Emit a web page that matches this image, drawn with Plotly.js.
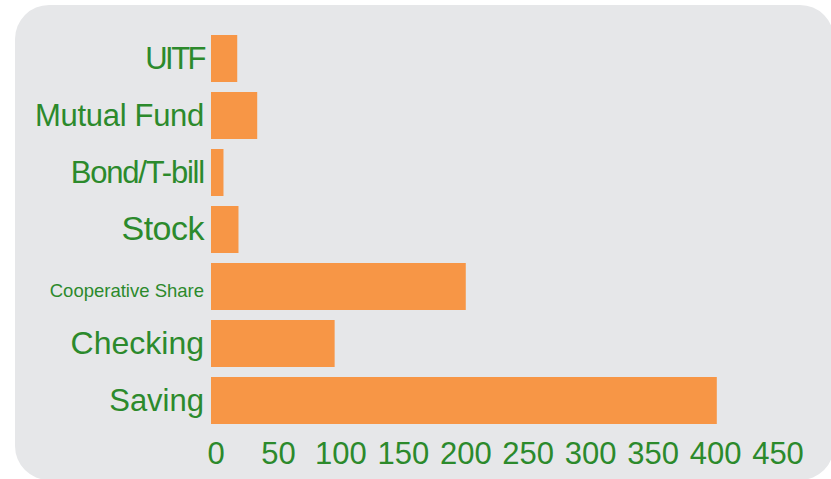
<!DOCTYPE html>
<html>
<head>
<meta charset="utf-8">
<script src="https://cdn.plot.ly/plotly-3.0.1.min.js"></script>
<style>
  html, body { margin: 0; padding: 0; background: #ffffff; overflow: hidden; }
  #bg { position: absolute; left: 15px; top: 5px; width: 819px; height: 475px;
        background: #E6E7E9; border-radius: 34px; }
  #chart { position: absolute; left: 0; top: 0; width: 831px; height: 479px; }
</style>
</head>
<body>
<div id="bg"></div>
<div id="chart"></div>
<script>
// Categories from bottom to top
const categories = ["Saving", "Checking", "Cooperative Share", "Stock", "Bond/T-bill", "Mutual Fund", "UITF"];
const values = [405, 99, 204, 22, 10, 37, 21];
const tickLabels = [
  "Saving",
  '<span style="font-size:32px">Checking</span>',
  '<span style="font-size:18.5px">Cooperative Share</span>',
  '<span style="font-size:34px;letter-spacing:-0.5px">Stock</span>',
  '<span style="letter-spacing:-1.2px">Bond/T-bill</span>',
  '<span style="letter-spacing:-0.3px">Mutual Fund</span>',
  '<span style="letter-spacing:-2.5px">UITF</span>'
];
const xTicks = [0, 50, 100, 150, 200, 250, 300, 350, 400, 450];

const green = "#2C8A2C";

Plotly.newPlot("chart", [{
  type: "bar",
  orientation: "h",
  y: categories,
  x: values,
  marker: { color: "#F79646", line: { width: 0 } },
  hoverinfo: "x+y"
}], {
  width: 831,
  height: 479,
  margin: { l: 211, r: 57.5, t: 29.5, b: 49.5 },
  paper_bgcolor: "rgba(0,0,0,0)",
  plot_bgcolor: "rgba(0,0,0,0)",
  bargap: 0.175,
  showlegend: false,
  xaxis: {
    range: [0, 450],
    tickvals: xTicks,
    ticktext: xTicks.map(String),
    showgrid: false,
    zeroline: false,
    showline: false,
    ticks: "",
    ticklabelshift: 5,
    ticklabelstandoff: 3,
    tickfont: { family: "Liberation Sans", size: 31, color: green }
  },
  yaxis: {
    type: "category",
    categoryorder: "array",
    categoryarray: categories,
    tickvals: categories,
    ticktext: tickLabels,
    showgrid: false,
    zeroline: false,
    showline: false,
    ticks: "",
    ticklabelstandoff: 6,
    tickfont: { family: "Liberation Sans", size: 31, color: green }
  }
}, { displayModeBar: false, staticPlot: true });
</script>
</body>
</html>
